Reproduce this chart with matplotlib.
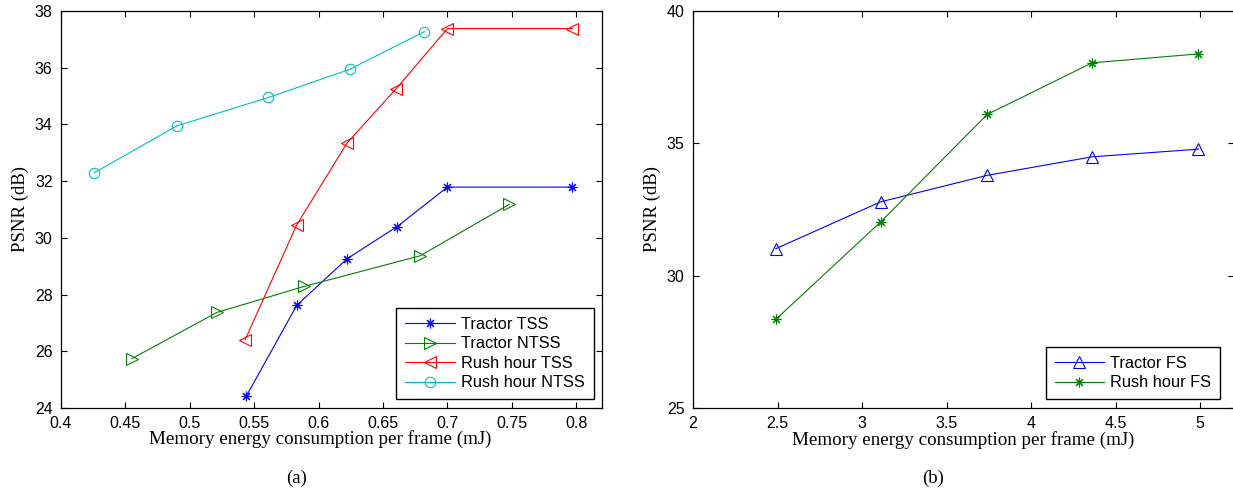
import matplotlib
matplotlib.use("Agg")
import matplotlib.pyplot as plt

# (a) block-matching search variants
tractor_tss_x = [0.544, 0.583, 0.622, 0.661, 0.700, 0.797]
tractor_tss_y = [24.43, 27.62, 29.26, 30.40, 31.79, 31.79]
tractor_ntss_x = [0.455, 0.521, 0.589, 0.679, 0.748]
tractor_ntss_y = [25.74, 27.37, 28.29, 29.37, 31.18]
rush_tss_x = [0.543, 0.583, 0.622, 0.660, 0.700, 0.797]
rush_tss_y = [26.41, 30.46, 33.34, 35.25, 37.38, 37.38]
rush_ntss_x = [0.426, 0.490, 0.561, 0.624, 0.682]
rush_ntss_y = [32.30, 33.95, 34.95, 35.94, 37.27]

# (b) full search
fs_x = [2.49, 3.11, 3.74, 4.36, 4.99]
tractor_fs_y = [31.02, 32.79, 33.79, 34.49, 34.78]
rush_fs_y = [28.35, 32.03, 36.09, 38.04, 38.38]

serif = ['Liberation Serif', 'DejaVu Serif']
sans = ['Liberation Sans', 'DejaVu Sans']
plt.rcParams['font.family'] = sans

fig = plt.figure(figsize=(12.33, 4.9), dpi=100)
ax1 = fig.add_axes([61 / 1233, 82 / 490, 541 / 1233, 397 / 490])
ax2 = fig.add_axes([693 / 1233, 82 / 490, 541 / 1233, 397 / 490])

lw = 0.8
ax1.plot(tractor_tss_x, tractor_tss_y, color='#0000ff', lw=lw, marker=(8, 2, 0),
         ms=7, mew=0.8, label='Tractor TSS')
ax1.plot(tractor_ntss_x, tractor_ntss_y, color='#008000', lw=lw, marker='>',
         ms=9, mfc='none', mew=0.8, label='Tractor NTSS')
ax1.plot(rush_tss_x, rush_tss_y, color='#ff0000', lw=lw, marker='<',
         ms=9, mfc='none', mew=0.8, label='Rush hour TSS')
ax1.plot(rush_ntss_x, rush_ntss_y, color='#00bfbf', lw=lw, marker='o',
         ms=7.5, mfc='none', mew=0.8, label='Rush hour NTSS')

ax2.plot(fs_x, tractor_fs_y, color='#0000ff', lw=lw, marker='^',
         ms=9, mfc='none', mew=0.8, label='Tractor FS')
ax2.plot(fs_x, rush_fs_y, color='#008000', lw=lw, marker=(8, 2, 0),
         ms=7, mew=0.8, label='Rush hour FS')

ax1.set_xlim(0.4, 0.82)
ax1.set_ylim(24, 38)
ax1.set_xticks([0.4, 0.45, 0.5, 0.55, 0.6, 0.65, 0.7, 0.75, 0.8])
ax1.set_xticklabels(['0.4', '0.45', '0.5', '0.55', '0.6', '0.65', '0.7', '0.75', '0.8'])
ax1.set_yticks(range(24, 39, 2))

ax2.set_xlim(2, 5.2)
ax2.set_ylim(25, 40)
ax2.set_xticks([2, 2.5, 3, 3.5, 4, 4.5, 5])
ax2.set_xticklabels(['2', '2.5', '3', '3.5', '4', '4.5', '5'])
ax2.set_yticks([25, 30, 35, 40])

for ax in (ax1, ax2):
    ax.tick_params(direction='in', top=True, right=True, length=4, width=0.8,
                   labelsize=11.5)
    ax.tick_params(axis='x', pad=6)
    ax.tick_params(axis='y', pad=6)
    for s in ax.spines.values():
        s.set_linewidth(0.9)
    ax.set_xlabel('Memory energy consumption per frame (mJ)', family=serif,
                  fontsize=13.7, labelpad=0)
    ax.set_ylabel('PSNR (dB)', family=serif, fontsize=13.5, labelpad=4)

# the left xlabel sits a little left of centre in the original
ax1.xaxis.set_label_coords(0.48, -0.055, transform=ax1.transAxes)
ax1.xaxis.label.set_va('top')

legend_kw = dict(loc='lower right', fontsize=11.8, fancybox=False, framealpha=1,
                 edgecolor='black', handlelength=3.0, labelspacing=0.27,
                 borderpad=0.55, handletextpad=0.4, borderaxespad=0)
leg1 = ax1.legend(bbox_to_anchor=(0.985, 0.022), **legend_kw)
leg2 = ax2.legend(bbox_to_anchor=(0.975, 0.022), **legend_kw)
for leg in (leg1, leg2):
    leg.get_frame().set_linewidth(1.0)

fig.text(297 / 1233, 1 - 478 / 490, '(a)', family=serif, fontsize=13.5,
         ha='center', va='center')
fig.text(933 / 1233, 1 - 478 / 490, '(b)', family=serif, fontsize=13.5,
         ha='center', va='center')

fig.savefig('out.png', dpi=100)
